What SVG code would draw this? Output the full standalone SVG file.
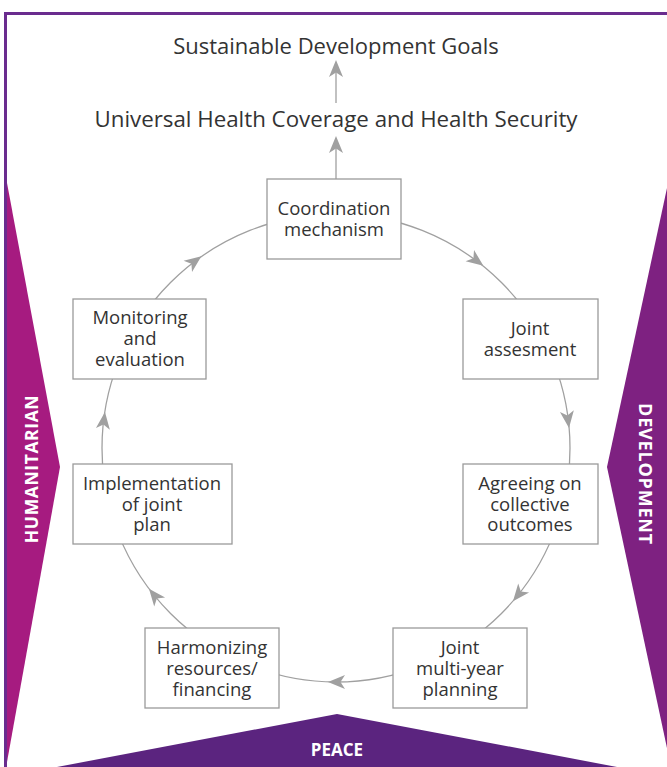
<svg xmlns="http://www.w3.org/2000/svg" width="667" height="767" viewBox="0 0 667 767">
<style>
.t{font-family:"Open Sans","Noto Sans",sans-serif;fill:#333333;text-anchor:middle}
.b{font-size:18.5px}
.lab{font-family:"Open Sans","Noto Sans",sans-serif;font-weight:bold;fill:#ffffff;text-anchor:middle}
.box{fill:#ffffff;stroke:#9a9a9a;stroke-width:1.3}
.ln{fill:none;stroke:#a0a0a0;stroke-width:1.3}
.ah{fill:#a0a0a0}
</style>
<defs>
<path id="arr" d="M8,0 L-9,-7 L-4.5,0 L-9,7 Z"/>
</defs>
<rect x="0" y="0" width="667" height="767" fill="#ffffff"/>
<g id="frame">
<path d="M5.5,767 L5.5,13.5 L667,13.5" fill="none" stroke="#6a2c8e" stroke-width="3"/>
</g>
<g id="humanitarian">
<polygon points="7,183 60,467 7,762" fill="#a61b80"/>
<text class="lab" font-size="17.5" letter-spacing="0.6" transform="translate(38,469) rotate(-90)">HUMANITARIAN</text>
</g>
<g id="development">
<polygon points="667,188 607,467 667,748" fill="#7e2181"/>
<text class="lab" font-size="18" letter-spacing="0.8" transform="translate(639,474) rotate(90)">DEVELOPMENT</text>
</g>
<g id="peace">
<polygon points="57,767 337,714 617,767" fill="#5b247f"/>
<text class="lab" x="337" y="756" font-size="17">PEACE</text>
</g>
<g id="sdg"><text class="t" x="336" y="54" font-size="22">Sustainable Development Goals</text></g>
<g id="uhc"><text class="t" x="336" y="127" font-size="22.3">Universal Health Coverage and Health Security</text></g>
<g id="connectors">
<line class="ln" x1="336" y1="103" x2="336" y2="66"/>
<use href="#arr" class="ah" transform="translate(336,68) rotate(-90)"/>
<line class="ln" x1="336" y1="179" x2="336" y2="142"/>
<use href="#arr" class="ah" transform="translate(336,144) rotate(-90)"/>
<circle class="ln" cx="336" cy="448" r="234"/>
<use href="#arr" class="ah" transform="translate(195,261) rotate(-37)"/>
<use href="#arr" class="ah" transform="translate(477,261) rotate(37)"/>
<use href="#arr" class="ah" transform="translate(568,420) rotate(83)"/>
<use href="#arr" class="ah" transform="translate(518,595) rotate(129)"/>
<use href="#arr" class="ah" transform="translate(336,682) rotate(180)"/>
<use href="#arr" class="ah" transform="translate(154,595) rotate(231)"/>
<use href="#arr" class="ah" transform="translate(104,420) rotate(-83)"/>
</g>
<g id="coordination">
<rect class="box" x="267" y="179" width="134" height="80"/>
<text class="t b" y="215"><tspan x="334">Coordination</tspan><tspan x="334" dy="21">mechanism</tspan></text>
</g>
<g id="assessment">
<rect class="box" x="463" y="299" width="135" height="80"/>
<text class="t b" y="335"><tspan x="530">Joint</tspan><tspan x="530" dy="21">assesment</tspan></text>
</g>
<g id="outcomes">
<rect class="box" x="463" y="464" width="135" height="80"/>
<text class="t b" y="490"><tspan x="530">Agreeing on</tspan><tspan x="530" dy="20.5">collective</tspan><tspan x="530" dy="20.5">outcomes</tspan></text>
</g>
<g id="planning">
<rect class="box" x="393" y="628" width="134" height="80"/>
<text class="t b" y="654"><tspan x="460">Joint</tspan><tspan x="460" dy="21">multi-year</tspan><tspan x="460" dy="21">planning</tspan></text>
</g>
<g id="financing">
<rect class="box" x="145" y="628" width="134" height="80"/>
<text class="t b" y="654"><tspan x="212">Harmonizing</tspan><tspan x="212" dy="21">resources/</tspan><tspan x="212" dy="21">financing</tspan></text>
</g>
<g id="implementation">
<rect class="box" x="73" y="464" width="159" height="80"/>
<text class="t b" y="490"><tspan x="152">Implementation</tspan><tspan x="152" dy="20.5">of joint</tspan><tspan x="152" dy="20.5">plan</tspan></text>
</g>
<g id="monitoring">
<rect class="box" x="73" y="299" width="133" height="80"/>
<text class="t b" y="324"><tspan x="140">Monitoring</tspan><tspan x="140" dy="21">and</tspan><tspan x="140" dy="21">evaluation</tspan></text>
</g>
</svg>
